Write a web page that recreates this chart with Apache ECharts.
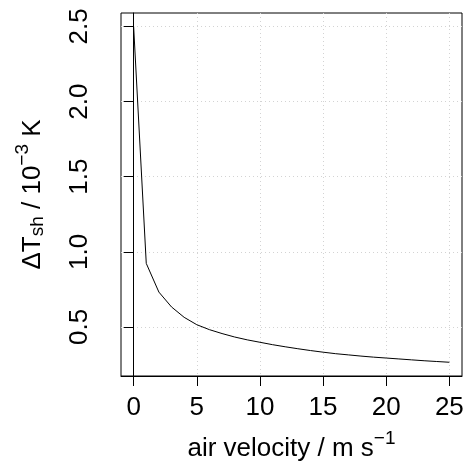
<!DOCTYPE html>
<html>
<head>
<meta charset="utf-8">
<script src="https://cdn.jsdelivr.net/npm/echarts@6/dist/echarts.min.js"></script>
<style>
html,body{margin:0;padding:0;background:#fff;}
#chart{width:468px;height:462px;}
</style>
</head>
<body>
<div id="chart"></div>
<script>
// Data
var velocity = [0,1,2,3,4,5,6,7,8,9,10,11,12,13,14,15,16,17,18,19,20,21,22,23,24,25];
var deltaT = [2.5,0.923,0.732,0.633,0.564,0.515,0.482,0.456,0.433,0.414,0.398,0.382,0.368,0.355,0.343,0.332,0.322,0.314,0.306,0.299,0.293,0.287,0.281,0.275,0.270,0.265];
var xTicks = [0,5,10,15,20,25];
var yTicks = [0.5,1.0,1.5,2.0,2.5];

var FONT = 'Liberation Sans';
var FS = 26;
var chart = echarts.init(document.getElementById('chart'), null, {renderer:'canvas'});
var pts = velocity.map(function(v,i){return [v, deltaT[i]];});

chart.setOption({
  animation:false,
  backgroundColor:'#fff',
  grid:{left:121, top:13, width:341, height:363, show:true, borderColor:'#000', borderWidth:1, backgroundColor:'transparent'},
  xAxis:{
    type:'value', min:-1, max:26,
    axisLine:{show:true, lineStyle:{color:'#000', width:1}},
    axisTick:{show:true, inside:false, length:10, customValues:xTicks, lineStyle:{color:'#000'}},
    axisLabel:{show:true, customValues:xTicks, margin:19, color:'#000', fontSize:FS, fontFamily:FONT},
    splitLine:{show:true, lineStyle:{color:'#d3d3d3', type:[1,3], width:1}}
  },
  yAxis:{
    type:'value', min:0.1735, max:2.5895,
    axisLine:{show:true, lineStyle:{color:'#000', width:1}},
    axisTick:{show:true, inside:false, length:10, customValues:yTicks, lineStyle:{color:'#000'}},
    axisLabel:{show:true, customValues:yTicks, rotate:90, margin:28, color:'#000', fontSize:FS, fontFamily:FONT,
      formatter:function(v){return v.toFixed(1);}},
    splitLine:{show:true, lineStyle:{color:'#d3d3d3', type:[1,3], width:1}}
  },
  series:[{
    type:'line', data:pts, showSymbol:false, symbol:'none',
    lineStyle:{color:'#000', width:1}, itemStyle:{color:'#000'}
  }],
  graphic:[
    {type:'text', x:291.5, y:449,
     style:{text:'{n|air velocity / m s}{sup|\u22121}', align:'center', verticalAlign:'middle', fill:'#000',
       rich:{n:{fontSize:FS, fontFamily:FONT, fill:'#000'},
             sup:{fontSize:19, fontFamily:FONT, fill:'#000', padding:[0,0,20,0]}}}},
    {type:'text', x:33, y:194.5, rotation:Math.PI/2,
     style:{text:'{n|\u0394T}{sub|sh}{n| / 10}{sup|\u22123}{n| K}', align:'center', verticalAlign:'middle', fill:'#000',
       rich:{n:{fontSize:FS, fontFamily:FONT, fill:'#000'},
             sub:{fontSize:19, fontFamily:FONT, fill:'#000', padding:[10,0,0,0]},
             sup:{fontSize:19, fontFamily:FONT, fill:'#000', padding:[0,0,20,0]}}}}
  ]
});
</script>
</body>
</html>
